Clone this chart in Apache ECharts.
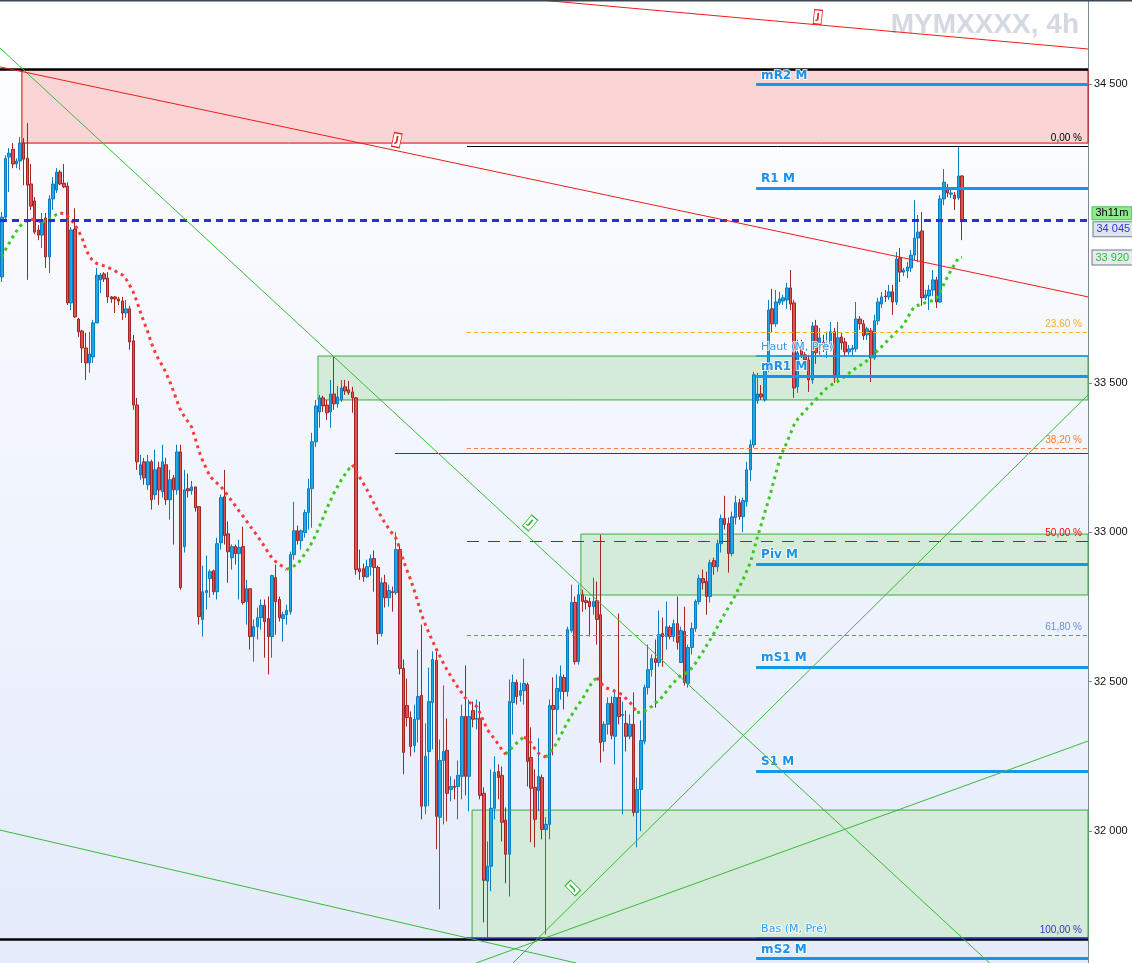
<!DOCTYPE html>
<html><head><meta charset="utf-8">
<script src="https://cdn.jsdelivr.net/npm/echarts@6/dist/echarts.min.js"></script>
<style>html,body{margin:0;padding:0;background:#fff}#c{width:1132px;height:963px}</style>
</head><body><div id="c"></div>
<script>
// ---------- DATA ----------
const slotCount = 298; // 264 candles + empty future slots
const candleOpen = [33855,34055,34256,34282,34233,34243,34303,34252,34166,34109,34012,33995,34052,33922,34116,34146,34206,34169,34159,33768,34015,33714,33674,33617,33567,33587,33701,33845,33865,33851,33788,33788,33781,33774,33734,33748,33641,33426,33192,33236,33159,33236,33126,33216,33136,33226,33109,33182,33142,33269,32952,33146,33139,33152,33086,32708,32798,32845,32871,32801,32965,33119,32995,32915,32952,32929,32952,32768,32811,32651,32684,32714,32755,32711,32651,32848,32775,32711,32724,32734,32925,33005,32972,32999,33066,33146,33303,33403,33450,33426,33403,33463,33430,33443,33487,33477,33470,33450,32878,32878,32851,32885,32912,32882,32661,32831,32781,32801,32798,32942,32544,32420,32380,32286,32374,32454,32083,32266,32430,32571,32046,32236,32270,32139,32149,32149,32183,32383,32183,32403,32374,32377,32126,31832,31882,32076,32199,32186,32036,31922,32430,32497,32454,32470,32490,32246,32146,32136,32179,32005,32022,32420,32407,32467,32514,32467,32671,32765,32567,32791,32771,32768,32751,32771,32724,32300,32357,32427,32317,32447,32387,32360,32317,32357,32062,32139,32300,32480,32540,32577,32564,32661,32651,32681,32651,32694,32564,32668,32494,32614,32678,32768,32845,32835,32785,32905,32885,32962,33046,33029,32929,33049,33099,33052,33102,33209,33293,33440,33463,33443,33544,33748,33698,33768,33774,33778,33818,33768,33487,33621,33594,33577,33510,33691,33617,33637,33617,33631,33671,33520,33654,33637,33604,33611,33614,33714,33698,33661,33674,33584,33708,33764,33791,33788,33805,33771,33918,33871,33875,33885,33928,33985,34009,33785,33791,33811,33845,33771,34116,34149,34132,34129,34119,34193];
const candleClose = [34055,34252,34269,34233,34243,34303,34249,34162,34092,34005,33995,34045,33922,34116,34166,34206,34166,34156,33768,34012,33721,33671,33617,33567,33597,33701,33861,33861,33848,33788,33781,33781,33774,33734,33748,33637,33426,33236,33226,33182,33236,33109,33209,33142,33236,33109,33176,33142,33269,32815,33142,33139,33152,33082,32718,32801,32805,32868,32801,32962,33116,32989,32935,32952,32929,32949,32765,32811,32651,32684,32714,32755,32701,32651,32855,32768,32714,32724,32738,32925,33005,32972,33005,33066,33146,33303,33423,33450,33423,33400,33463,33430,33453,33483,33473,33467,33450,32875,32868,32851,32885,32912,32882,32661,32831,32781,32805,32798,32942,32544,32263,32380,32283,32374,32450,32083,32250,32433,32574,32049,32236,32266,32126,32149,32146,32186,32383,32183,32383,32374,32377,32119,31835,31882,32076,32196,32179,32029,31922,32433,32497,32450,32470,32494,32233,32143,32039,32183,32005,32022,32420,32407,32477,32517,32467,32674,32765,32567,32791,32768,32765,32751,32768,32708,32296,32357,32427,32320,32447,32383,32390,32317,32357,32062,32139,32303,32480,32540,32577,32564,32657,32651,32684,32651,32694,32631,32671,32497,32614,32678,32768,32845,32831,32785,32898,32885,32962,33046,33026,32929,33052,33099,33052,33106,33209,33293,33527,33463,33453,33544,33744,33698,33771,33781,33785,33818,33764,33483,33601,33594,33577,33510,33691,33601,33651,33621,33627,33671,33517,33651,33634,33604,33614,33617,33714,33698,33658,33681,33584,33708,33771,33788,33788,33805,33771,33915,33871,33878,33888,33928,33985,34005,33785,33795,33811,33845,33771,34116,34172,34136,34136,34116,34193,34045];
const candleLow = [33838,34045,34139,34219,34219,34213,34162,33845,34079,33998,33978,33952,33885,33868,34079,34136,34162,34152,33761,33744,33718,33654,33567,33510,33534,33567,33701,33801,33838,33768,33768,33734,33761,33711,33718,33611,33410,33209,33176,33159,33142,33076,33109,33092,33116,33092,33042,32959,33126,32808,32932,33116,33126,33069,32691,32651,32741,32781,32791,32775,32942,32959,32831,32875,32892,32775,32758,32691,32607,32567,32641,32674,32580,32524,32580,32657,32701,32634,32691,32724,32908,32959,32942,32982,33009,33015,33286,33350,33403,33376,33350,33410,33417,33437,33460,33460,33400,32858,32841,32835,32848,32855,32801,32624,32651,32748,32751,32734,32791,32524,32190,32350,32250,32263,32296,32039,32056,32083,32273,31939,31738,32022,32032,32099,32106,32039,32106,32119,32066,32347,32340,32106,31694,31644,31798,32039,32106,31965,31825,31781,32323,32423,32433,32423,32149,31962,31945,32066,31972,31654,31972,32253,32323,32440,32407,32450,32664,32557,32557,32734,32741,32651,32724,32624,32229,32266,32323,32307,32223,32357,32056,32266,32307,32049,31945,31999,32290,32457,32517,32413,32550,32550,32607,32641,32634,32607,32564,32487,32480,32591,32667,32758,32808,32724,32765,32858,32868,32932,33009,32865,32919,33026,33042,33000,33086,33172,33283,33430,33443,33437,33537,33671,33688,33761,33761,33748,33744,33450,33467,33584,33564,33470,33497,33564,33594,33604,33584,33604,33500,33503,33611,33587,33594,33591,33604,33678,33644,33644,33503,33577,33694,33751,33771,33778,33728,33761,33838,33858,33851,33871,33911,33905,33758,33778,33744,33791,33751,33768,34095,34122,34119,34079,34112,33978];
const candleHigh = [34072,34262,34286,34303,34252,34323,34320,34370,34233,34122,34029,34069,34069,34129,34189,34219,34213,34233,34172,34022,34085,33718,33678,33668,33671,33711,33885,33868,33871,33871,33791,33791,33788,33788,33778,33758,33661,33450,33259,33249,33259,33243,33276,33236,33293,33249,33209,33192,33293,33293,33209,33196,33172,33152,33086,32888,32922,32875,32875,32982,33126,33209,33036,32959,32959,32975,33019,32841,32811,32708,32748,32775,32775,32785,32858,32892,32785,32734,32758,32935,33102,33022,33009,33076,33179,33333,33443,33460,33457,33443,33510,33587,33490,33510,33510,33507,33487,33453,32942,32895,32908,32925,32939,32888,32848,32858,32825,32818,33000,32959,32574,32510,32400,32423,32607,32691,32360,32547,32601,32601,32306,32487,32377,32183,32173,32236,32423,32554,32440,32433,32440,32433,32146,31965,32206,32250,32223,32216,32079,32507,32524,32507,32497,32577,32497,32347,32206,32310,32189,32046,32440,32514,32524,32554,32524,32684,32825,32785,32825,32808,32785,32781,32848,32835,32992,32367,32447,32450,32474,32728,32433,32403,32390,32464,32179,32370,32490,32624,32591,32641,32738,32714,32768,32688,32708,32785,32684,32751,32624,32698,32775,32858,32875,32868,32908,32915,32975,33059,33122,33049,33069,33122,33112,33116,33236,33310,33537,33534,33493,33551,33778,33815,33811,33805,33795,33835,33878,33778,33644,33644,33604,33594,33704,33711,33684,33661,33671,33704,33684,33704,33668,33651,33627,33627,33771,33724,33711,33688,33684,33728,33785,33805,33811,33828,33828,33938,33952,33885,33905,33945,34112,34062,34072,33811,33828,33878,33855,34129,34216,34166,34146,34139,34293,34196];
const maValues = [33923,33946,33968,33989,34008,34025,34036,34046,34048,34046,34043,34039,34043,34048,34057,34064,34069,34067,34058,34046,34029,34009,33984,33949,33923,33909,33900,33896,33892,33887,33881,33875,33868,33862,33848,33827,33804,33772,33736,33702,33670,33632,33602,33577,33557,33533,33505,33473,33439,33407,33388,33370,33352,33313,33272,33240,33214,33187,33175,33164,33153,33138,33121,33104,33088,33071,33055,33038,33021,33004,32988,32970,32951,32932,32914,32902,32893,32885,32876,32880,32887,32894,32911,32927,32945,32968,32991,33019,33049,33079,33106,33132,33154,33176,33194,33211,33226,33205,33185,33164,33143,33119,33095,33071,33051,33030,33012,32995,32979,32945,32905,32872,32840,32804,32764,32723,32691,32663,32635,32609,32585,32560,32538,32518,32498,32479,32462,32445,32431,32424,32418,32394,32366,32339,32323,32307,32290,32271,32257,32270,32282,32294,32306,32314,32309,32294,32275,32260,32252,32247,32261,32278,32294,32318,32342,32366,32386,32406,32424,32441,32463,32485,32503,32513,32497,32482,32477,32472,32467,32462,32456,32443,32431,32414,32397,32398,32401,32409,32417,32429,32436,32451,32467,32483,32496,32510,32521,32526,32533,32546,32562,32581,32599,32620,32640,32661,32683,32705,32727,32748,32768,32792,32816,32841,32870,32898,32942,32985,33026,33067,33107,33151,33197,33244,33274,33300,33330,33360,33379,33393,33406,33420,33432,33445,33458,33471,33483,33492,33499,33506,33513,33523,33532,33542,33550,33558,33566,33575,33585,33598,33610,33622,33634,33647,33658,33670,33681,33694,33716,33739,33756,33760,33765,33769,33773,33776,33784,33804,33830,33855,33877,33898,33918,33920];
const yTickValues = [32000, 32500, 33000, 33500, 34500];
const yRange = [31558, 34782];

const fibLabels = ['0,00 %', '23,60 %', '38,20 %', '50,00 %', '61,80 %', '100,00 %'];
const fibPrices = [34293, 33670, 33282, 32971, 32656, 31642];
const fibStartIndex = 127.4;

const pivotNames = ['mR2 M', 'R1 M', 'Haut (M, Pré)', 'mR1 M', 'Piv M', 'mS1 M', 'S1 M', 'Bas (M, Pré)', 'mS2 M'];
const pivotPrices = [34499, 34153, 33592, 33523, 32894, 32549, 32201, 31642, 31573];
const pivotStartIndex = 206.6;

// zones: [startIndex, topPrice, bottomPrice]
const supplyZone = [5.5, 34548, 34303];
const demandZones = [[86.6, 33590, 33443], [158.6, 32994, 32790], [128.8, 32070, 31638]];

// horizontal extras
const boundaryPrices = [34551, 31638];
const redLevel = [107.7, 33265];
const lastPrice = 34045;
const maLast = 33920;
const timerText = '3h11m';

// trend lines [[index, price], [index, price]]
const trendRedTop = [[147.4, 34782], [297.5, 34618]];
const trendRedMain = [[-0.5, 34558], [297.5, 33788]];
const trendGreenA = [[-0.5, 34621], [297.5, 31253]];
const trendGreenB = [[-0.5, 32003], [157.3, 31558]];
const trendGreenC = [[140.0, 31558], [297.5, 33460]];
const trendGreenD = [[129.9, 31558], [297.5, 32301]];
// markers on trend lines [index, price]
const redMarkers = [[223.5, 34725], [108.2, 34313]];
const greenMarkers = [[144.7, 33031], [156.4, 31809]];

// ---------- BUILD ----------
const X0 = -0.5, X1 = slotCount - 0.5;
const categories = Array.from({length: slotCount}, (_, i) => String(i));
const candles = candleOpen.map((o, i) => [o, candleClose[i], candleLow[i], candleHigh[i]]);
const fmt = v => String(Math.round(v)).replace(/\B(?=(\d{3})+(?!\d))/g, ' ');

const n = maValues.length;
const maGreen = maValues.map((v, i) => {
  const l = i > 0 && v > maValues[i - 1];
  const r = i < n - 1 && maValues[i + 1] > v;
  return (l || r) ? v : null;
});
const maRed = maValues.map((v, i) => {
  const l = i > 0 && v <= maValues[i - 1];
  const r = i < n - 1 && maValues[i + 1] <= v;
  return (l || r) ? v : null;
});

const fibColors = ['#000000', '#ffb31a', '#ff7f2a', '#e00000', '#5f84ea', '#3030c8'];
const fibLabelColors = ['#000000', '#f2ae22', '#ff7a2e', '#ff0000', '#6a8ce4', '#3535c8'];
const fibTypes = ['solid', [4, 3], [4, 3], [12, 9], [4, 3], 'solid'];
const fibWidths = [1, 1, 1, 1.2, 1, 1.5];

const levelLines = [];
boundaryPrices.forEach(p => levelLines.push([
  {coord: [X0, p], lineStyle: {color: '#000', width: 2.5, type: 'solid'}, label: {show: false}},
  {coord: [X1, p]}
]));
fibPrices.forEach((p, i) => levelLines.push([
  {coord: [fibStartIndex, p], lineStyle: {color: fibColors[i], width: fibWidths[i], type: fibTypes[i]},
   label: {show: true, position: 'insideEndTop', formatter: fibLabels[i], color: fibLabelColors[i],
           fontSize: 10, fontFamily: 'Liberation Sans', distance: [6, 3]}},
  {coord: [X1, p]}
]));
levelLines.push([
  {coord: [redLevel[0], redLevel[1]], lineStyle: {color: '#d40000', width: 1, type: 'solid'}, label: {show: false}},
  {coord: [X1, redLevel[1]]}
]);

const pivotLines = pivotNames.map((name, i) => {
  const minor = name.indexOf('Pré') >= 0;
  return [
    {coord: [pivotStartIndex, pivotPrices[i]],
     lineStyle: {color: '#1296f0', width: minor ? 1.6 : 3, type: 'solid'},
     label: {show: true, position: 'insideStartTop', formatter: name, color: minor ? '#2a9df0' : '#1a92ec',
             fontSize: minor ? 11 : 12, fontWeight: minor ? 'normal' : 'bold', fontFamily: 'DejaVu Sans',
             distance: [5, 3], textBorderColor: 'rgba(255,255,255,0.8)', textBorderWidth: 2}},
    {coord: [X1, pivotPrices[i]]}
  ];
});

const zoneAreas = [[
  {coord: [supplyZone[0], supplyZone[1]], itemStyle: {color: '#fbd4d6', borderColor: '#e00000', borderWidth: 1}},
  {coord: [X1, supplyZone[2]]}
]];
demandZones.forEach(z => zoneAreas.push([
  {coord: [z[0], z[1]], itemStyle: {color: '#d3ebd8', borderColor: '#3aae3a', borderWidth: 1}},
  {coord: [X1, z[2]]}
]));

function trend(name, pts, color, markers, mColor, rots) {
  const s = {
    name, type: 'line', xAxisIndex: 1, yAxisIndex: 0, data: pts, symbol: 'none', z: 6,
    lineStyle: {color, width: 1}, silent: true, clip: true
  };
  if (markers) {
    s.markPoint = {
      silent: true,
      data: markers.map((m, k) => ({
        coord: m, symbol: 'rect', symbolSize: [8, 14], symbolRotate: rots[k],
        itemStyle: {color: '#ffffff', borderColor: mColor, borderWidth: 1},
        label: {show: true, formatter: 'J', color: mColor, fontSize: 9, fontWeight: 'bold',
                fontFamily: 'DejaVu Sans', rotate: rots[k], position: 'inside'}
      }))
    };
  }
  return s;
}

const option = {
  animation: false,
  backgroundColor: '#ffffff',
  title: {
    text: 'MYMXXXX, 4h', right: 48, top: 6,
    textStyle: {fontFamily: 'Liberation Sans', fontSize: 28, fontWeight: 'bold', color: '#d4d8e1'}
  },
  graphic: [{type: 'rect', shape: {x: 0, y: 0, width: 1132, height: 1.5}, style: {fill: '#3a4651'}, z: 100}],
  grid: {
    left: 0, right: 44, top: 0, bottom: 0, show: true, borderWidth: 0, outerBoundsMode: 'none',
    backgroundColor: new echarts.graphic.LinearGradient(0, 0, 0, 1, [
      {offset: 0, color: '#ffffff'}, {offset: 0.5, color: '#f1f5fd'}, {offset: 1, color: '#e4ebfb'}
    ])
  },
  xAxis: [
    {type: 'category', data: categories, boundaryGap: true, show: false},
    {type: 'value', min: X0, max: X1, show: false}
  ],
  yAxis: {
    type: 'value', position: 'right', min: yRange[0], max: yRange[1],
    axisLine: {show: true, onZero: false, lineStyle: {color: '#7c8a96', width: 1}},
    axisTick: {show: true, length: 4, lineStyle: {color: '#7c8a96'}, customValues: yTickValues},
    axisLabel: {color: '#111', fontSize: 11, fontFamily: 'Liberation Sans', margin: 6,
                customValues: yTickValues,
                formatter: v => (yTickValues.indexOf(v) >= 0 ? fmt(v) : '')},
    splitLine: {show: false}
  },
  series: [
    {
      name: 'zones', type: 'line', xAxisIndex: 1, data: [], z: 1, silent: true,
      markArea: {silent: true, data: zoneAreas}
    },
    {
      name: 'pivots', type: 'line', xAxisIndex: 1, data: [], z: 2, silent: true,
      markLine: {silent: true, symbol: ['none', 'none'], data: pivotLines}
    },
    {
      name: 'levels', type: 'line', xAxisIndex: 1, data: [], z: 2, silent: true,
      markLine: {silent: true, symbol: ['none', 'none'], data: levelLines}
    },
    {
      name: 'MYM', type: 'candlestick', data: candles, z: 3, barWidth: 3,
      itemStyle: {color: '#1fa6e4', color0: '#e05252', borderColor: '#0a7cc1', borderColor0: '#a32626', borderWidth: 1}
    },
    {
      name: 'maUp', type: 'line', data: maGreen, symbol: 'none', z: 4, connectNulls: false,
      lineStyle: {color: '#3cc81e', width: 3, type: [3, 4]}
    },
    {
      name: 'maDown', type: 'line', data: maRed, symbol: 'none', z: 4, connectNulls: false,
      lineStyle: {color: '#ff3a3a', width: 3, type: [3, 4]}
    },
    trend('trA', trendGreenA, '#3cb83c', [greenMarkers[0]], '#3cb83c', [-40]),
    trend('trB', trendGreenB, '#3cb83c'),
    trend('trC', trendGreenC, '#3cb83c', [greenMarkers[1]], '#3cb83c', [45]),
    trend('trD', trendGreenD, '#3cb83c'),
    trend('trR1', trendRedTop, '#ee1c1c', [redMarkers[0]], '#ee1c1c', [-6]),
    trend('trR2', trendRedMain, '#ee1c1c', [redMarkers[1]], '#ee1c1c', [-12]),
    {
      name: 'current', type: 'line', xAxisIndex: 1, data: [], z: 7, silent: true,
      markLine: {silent: true, symbol: ['none', 'none'], data: [[
        {coord: [X0, lastPrice], lineStyle: {color: '#2d2de0', width: 3, type: [7, 5]}, label: {show: false}},
        {coord: [X1, lastPrice]}
      ]]}
    },
    {
      name: 'tags', type: 'line', xAxisIndex: 1, data: [], z: 10, silent: true, clip: false,
      markPoint: {
        silent: true, symbol: 'rect', symbolSize: 1, itemStyle: {color: 'rgba(0,0,0,0)'},
        data: [
          {coord: [X1, lastPrice], label: {show: true, position: 'right', distance: 5, offset: [0, 9],
            formatter: fmt(lastPrice), color: '#3434d4', backgroundColor: '#dde3ef', borderColor: '#6f7e8c',
            borderWidth: 1, padding: [2, 3, 1, 3], fontSize: 11, fontFamily: 'Liberation Sans'}},
          {coord: [X1, lastPrice], label: {show: true, position: 'right', distance: 4, offset: [0, -7],
            formatter: timerText, color: '#000', backgroundColor: '#8fe98f', borderColor: '#4cc24c',
            borderWidth: 1, padding: [1, 3, 0, 3], fontSize: 11, fontFamily: 'Liberation Sans'}},
          {coord: [X1, maLast], label: {show: true, position: 'right', distance: 4, offset: [0, 0],
            formatter: fmt(maLast), color: '#2cbf2c', backgroundColor: '#e6eaf2', borderColor: '#6f7b87',
            borderWidth: 1, padding: [2, 3, 1, 3], fontSize: 11, fontFamily: 'Liberation Sans'}}
        ]
      }
    }
  ]
};

const chart = echarts.init(document.getElementById('c'), null, {renderer: 'canvas'});
chart.setOption(option);
</script>
</body></html>
